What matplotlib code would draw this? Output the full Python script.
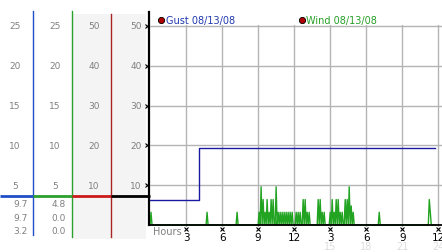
import matplotlib
matplotlib.use("Agg")
import matplotlib.pyplot as plt
import matplotlib.transforms as mtransforms
import numpy as np

# wind speed, 5 minute readings, one row per hour (00:00 .. 23:45)
wind_rows = [
    [0, 1.6, 0, 0, 0, 0, 0, 0, 0, 0, 0, 0],
    [0, 0, 0, 0, 0, 0, 0, 0, 0, 0, 0, 0],
    [0, 0, 0, 0, 0, 0, 0, 0, 0, 0, 0, 0],
    [0, 0, 0, 0, 0, 0, 0, 0, 0, 0, 0, 0],
    [0, 0, 0, 0, 0, 0, 0, 0, 0, 1.6, 0, 0],
    [0, 0, 0, 0, 0, 0, 0, 0, 0, 0, 0, 0],
    [0, 0, 0, 0, 0, 0, 0, 0, 0, 0, 0, 0],
    [0, 0, 0, 1.6, 0, 0, 0, 0, 0, 0, 0, 0],
    [0, 0, 0, 0, 0, 0, 0, 0, 0, 0, 0, 0],
    [0, 1.6, 0, 4.8, 0, 3.2, 0, 1.6, 0, 3.2, 0, 1.6],
    [0, 3.2, 0, 3.2, 0, 0, 4.8, 0, 1.6, 0, 1.6, 0],
    [1.6, 0, 1.6, 0, 1.6, 0, 1.6, 0, 1.6, 0, 1.6, 0],
    [0, 0, 1.6, 0, 1.6, 0, 1.6, 0, 0, 3.2, 0, 3.2],
    [0, 1.6, 0, 1.6, 0, 0, 0, 0, 0, 0, 0, 0],
    [3.2, 0, 3.2, 0, 1.6, 0, 1.6, 0, 0, 0, 0, 0],
    [1.6, 0, 3.2, 0, 1.6, 0, 3.2, 0, 3.2, 0, 1.6, 0],
    [1.6, 0, 0, 3.2, 0, 3.2, 0, 4.8, 0, 2.4, 0, 1.6],
    [0, 0, 0, 0, 0, 0, 0, 0, 0, 0, 0, 0],
    [0, 0, 0, 0, 0, 0, 0, 0, 0, 0, 0, 0],
    [0, 1.6, 0, 0, 0, 0, 0, 0, 0, 0, 0, 0],
    [0, 0, 0, 0, 0, 0, 0, 0, 0, 0, 0, 0],
    [0, 0, 0, 0, 0, 0, 0, 0, 0, 0, 0, 0],
    [0, 0, 0, 0, 0, 0, 0, 0, 0, 0, 0, 0],
    [0, 0, 0, 3.2, 1.6, 0, 0, 0, 0, 0],
]
wind = np.concatenate([np.array(r, dtype=float) for r in wind_rows])
wind_hours = np.arange(len(wind)) / 12.0

gust_hours = [0, 4.08, 23.75]
gust = [3.2, 9.7, 9.7]

hour_ticks = [3, 6, 9, 12, 15, 18, 21, 24]
hour_labels = ["3", "6", "9", "12", "3", "6", "9", "12"]
hour_labels_24 = ["15", "18", "21", "24"]

gust_scale = [5, 10, 15, 20, 25]
wind_scale = [5, 10, 15, 20, 25]
speed_scale = [10, 20, 30, 40, 50]

gust_readout = ["9.7", "9.7", "3.2"]
wind_readout = ["4.8", "0.0", "0.0"]

gust_label = "Gust 08/13/08"
wind_label = "Wind 08/13/08"

W, H = 442, 253
X0, Y0 = 150, 226          # pixel position of hour 0 / speed 0
PX_H = 288.3 / 24           # pixels per hour
PX_V = 199 / 25             # pixels per unit

BLUE = "#1f4fc8"
GREEN = "#2ca02c"
RED = "#cc1a1a"
DARKRED = "#a82424"
GUST_C = "#1a1aa0"
WIND_C = "#22a322"
GRAY_TXT = "#808080"

fig = plt.figure(figsize=(W / 100, H / 100), dpi=100)

# decoration layer in pixel units
deco = fig.add_axes([0, 0, 1, 1], zorder=0)
deco.set_xlim(0, W)
deco.set_ylim(H, 0)
deco.axis("off")

ylo, yhi = -0.3, 25.1
xhi = (W - X0) / PX_H
ax = fig.add_axes([X0 / W, (H - Y0 + ylo * PX_V) / H,
                   (W - X0) / W, (yhi - ylo) * PX_V / H], zorder=2)
ax.set_facecolor("none")
ax.set_xlim(0, xhi)
ax.set_ylim(ylo, yhi)
for s in ax.spines.values():
    s.set_visible(False)

# grey panels behind the right two scale columns
deco.fill_between([72.5, 111], 15, 240, color="#f4f4f4", lw=0)
deco.fill_between([111.5, 146], 15, 240, color="#f4f4f4", lw=0)

# column rules
deco.plot([33.3, 33.3], [12, 236], color=BLUE, lw=1)
deco.plot([72.3, 72.3], [12, 238], color=GREEN, lw=1)
deco.plot([111.3, 111.3], [15, 238], color=DARKRED, lw=1)
deco.plot([149.2, 149.2], [13, 226], color="black", lw=1.6)

# separator above the readouts
deco.plot([0, 33.3], [197, 197], color=BLUE, lw=2, solid_capstyle="butt")
deco.plot([33.3, 72.3], [197, 197], color=GREEN, lw=2, solid_capstyle="butt")
deco.plot([72.3, 111.3], [197, 197], color=RED, lw=2, solid_capstyle="butt")
deco.plot([111.3, 149.5], [197, 197], color="black", lw=2, solid_capstyle="butt")

# scale columns, placed on the chart's value scale
col_tr = mtransforms.blended_transform_factory(deco.transData, ax.transData)
for v in gust_scale:
    deco.text(14.7, v, str(v), transform=col_tr, ha="center", va="center",
              fontsize=6.5, color=GRAY_TXT)
for v in wind_scale:
    deco.text(54.7, v, str(v), transform=col_tr, ha="center", va="center",
              fontsize=6.5, color=GRAY_TXT)
for v in speed_scale:
    deco.text(94, v / 2, str(v), transform=col_tr, ha="center", va="center",
              fontsize=6.5, color=GRAY_TXT)
    deco.text(135.8, v / 2, str(v), transform=col_tr, ha="center", va="center",
              fontsize=6.5, color=GRAY_TXT)

for i, (g, w) in enumerate(zip(gust_readout, wind_readout)):
    y = 204.7 + i * 13.5
    deco.text(27.5, y, g, ha="right", va="center", fontsize=6.5, color=GRAY_TXT)
    deco.text(66, y, w, ha="right", va="center", fontsize=6.5, color=GRAY_TXT)

# grid
ax.set_xticks(hour_ticks)
ax.set_xticklabels(hour_labels)
ax.set_yticks(gust_scale)
ax.set_yticklabels([])
ax.tick_params(axis="both", length=0)
ax.tick_params(axis="x", pad=3.2, labelsize=7.5, labelcolor="black")
ax.grid(True, color="#b4b4b4", lw=1)
ax.set_axisbelow(True)

# tiny tick marks
ax.plot(hour_ticks, [-0.45] * len(hour_ticks), "x", color="black", ms=2.2,
        mew=0.8, clip_on=False)
ax.plot([-2.6 / PX_H] * len(gust_scale), gust_scale, "x", color="black",
        ms=2.2, mew=0.8, clip_on=False)

# faint 24h labels under the afternoon hours
for h, lab in zip(hour_ticks[4:], hour_labels_24):
    ax.text(h, -(247.5 - Y0) / PX_V, lab, ha="center", va="center",
            fontsize=7, color="#dcdcdc", clip_on=False)
ax.text(3.5 / PX_H, -(232 - Y0) / PX_V, "Hours", ha="left", va="center",
        fontsize=7, color=GRAY_TXT, clip_on=False)

# data
ax.plot(wind_hours, wind, color=WIND_C, lw=1, zorder=3)
ax.axhline(0, color="black", lw=1.3, zorder=4)
ax.plot(gust_hours, gust, color=GUST_C, lw=1, drawstyle="steps-post", zorder=5)

# legend
deco.plot([160.8], [20.7], "o", ms=4.5, color="#b00000", mec="black", mew=0.6)
deco.text(165.5, 20.7, gust_label, ha="left", va="center", fontsize=7,
          color="#2038b0")
deco.plot([302], [20.7], "o", ms=4.5, color="#b00000", mec="black", mew=0.6)
deco.text(306.5, 20.7, wind_label, ha="left", va="center", fontsize=7,
          color="#28a028")

fig.savefig("out.png", dpi=100)
